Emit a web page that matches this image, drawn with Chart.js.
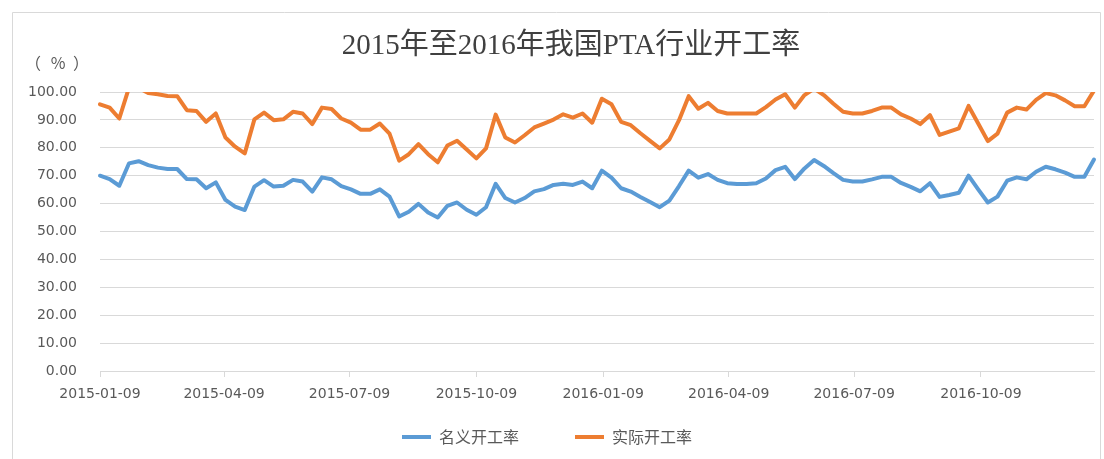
<!DOCTYPE html>
<html>
<head>
<meta charset="utf-8">
<script src="https://cdn.jsdelivr.net/npm/chart.js@4.4.1/dist/chart.umd.min.js"></script>
<style>
  html, body { margin: 0; padding: 0; background: #fff; }
  #wrap { width: 1104px; height: 459px; }
</style>
</head>
<body>
<div id="wrap"><canvas id="chart" width="1104" height="459"></canvas></div>
<script>
// chart text
const chartTitle = '2015年至2016年我国PTA行业开工率';
const unitParts = ['（', '%', '）'];
const seriesNames = ['名义开工率', '实际开工率'];

// weekly series, first week 2015-01-09
const firstWeek = '2015-01-09';
const tickDates = ['2015-01-09', '2015-04-09', '2015-07-09', '2015-10-09',
                   '2016-01-09', '2016-04-09', '2016-07-09', '2016-10-09'];

const nominalRate = [
  70.0, 68.8, 66.4, 74.4, 75.2, 73.8, 72.9, 72.4, 72.4, 68.8,
  68.7, 65.5, 67.6, 61.3, 58.9, 57.7, 66.1, 68.4, 66.1, 66.4,
  68.5, 67.9, 64.3, 69.4, 68.7, 66.3, 65.1, 63.5, 63.5, 65.1,
  62.5, 55.4, 57.1, 59.9, 56.8, 55.0, 59.2, 60.4, 57.8, 56.0,
  58.7, 67.1, 62.0, 60.4, 62.0, 64.4, 65.2, 66.7, 67.1, 66.7,
  67.9, 65.5, 71.8, 69.3, 65.5, 64.3, 62.4, 60.6, 58.7, 61.1,
  66.3, 71.8, 69.3, 70.6, 68.5, 67.3, 67.0, 67.0, 67.3, 69.0,
  72.0, 73.2, 68.8, 72.6, 75.6, 73.5, 70.9, 68.5, 67.9, 67.9,
  68.7, 69.6, 69.6, 67.4, 66.0, 64.4, 67.3, 62.4, 63.1, 63.9,
  70.0, 65.1, 60.4, 62.5, 68.2, 69.4, 68.7, 71.4, 73.2, 72.3,
  71.1, 69.6, 69.6, 75.8
];

const actualRate = [
  95.6, 94.4, 90.5, 101.5, 101.5, 99.6, 99.2, 98.6, 98.5, 93.5,
  93.2, 89.3, 92.3, 83.7, 80.4, 78.0, 90.2, 92.6, 89.9, 90.2,
  92.9, 92.3, 88.5, 94.4, 93.9, 90.5, 89.0, 86.5, 86.5, 88.7,
  85.1, 75.4, 77.7, 81.3, 77.7, 74.8, 80.8, 82.5, 79.4, 76.2,
  79.8, 91.9, 83.7, 81.9, 84.5, 87.3, 88.7, 90.1, 92.0, 90.8,
  92.3, 89.0, 97.6, 95.6, 89.3, 88.1, 85.2, 82.5, 79.8, 83.0,
  89.9, 98.5, 94.0, 96.1, 93.2, 92.3, 92.3, 92.3, 92.3, 94.6,
  97.3, 99.2, 94.4, 98.9, 101.2, 98.9, 95.8, 92.9, 92.3, 92.3,
  93.2, 94.4, 94.4, 92.0, 90.5, 88.5, 91.7, 84.6, 85.8, 87.0,
  95.0, 88.7, 82.4, 85.1, 92.6, 94.4, 93.7, 97.2, 99.6, 98.8,
  97.0, 94.9, 94.9, 100.5
];

const DAY = 86400000;
const t0 = Date.parse(firstWeek);
const dayOf = s => Math.round((Date.parse(s) - t0) / DAY);
const weekDays = nominalRate.map((_, i) => i * 7);
const tickDays = tickDates.map(dayOf);
const tickLabelOf = {};
tickDates.forEach((d, i) => { tickLabelOf[tickDays[i]] = d; });

const gridGray = '#d9d9d9';
const textGray = '#595959';
const legendPad = 56;
const legendRowY = 437;

// frame, title, unit label; also pulls the legend row up under the axis labels
const decor = {
  id: 'decor',
  afterLayout(chart) {
    const lg = chart.legend;
    if (!lg) return;
    lg.top = legendRowY - legendPad - 8;
    lg.bottom = chart.height;
    lg.height = lg.bottom - lg.top;
  },
  beforeDraw(chart) {
    const ctx = chart.ctx;
    ctx.save();
    ctx.fillStyle = '#fff';
    ctx.fillRect(0, 0, chart.width, chart.height);
    ctx.strokeStyle = gridGray;
    ctx.lineWidth = 1;
    ctx.beginPath();
    ctx.moveTo(12.5, chart.height + 5);
    ctx.lineTo(12.5, 12.5);
    ctx.lineTo(1100.5, 12.5);
    ctx.lineTo(1100.5, chart.height + 5);
    ctx.stroke();
    ctx.restore();
  },
  afterDraw(chart) {
    const ctx = chart.ctx;
    ctx.save();
    ctx.textAlign = 'center';
    ctx.textBaseline = 'middle';
    ctx.fillStyle = '#404040';
    ctx.font = '29px "Liberation Serif", "Noto Sans CJK SC", serif';
    ctx.fillText(chartTitle, 571, 46);
    ctx.fillStyle = textGray;
    ctx.font = '16px "Noto Sans CJK SC", sans-serif';
    const ux = [33, 58, 81];
    unitParts.forEach((s, i) => ctx.fillText(s, ux[i], 63));
    ctx.restore();
  }
};

const lineSet = (label, values, color) => ({
  label,
  data: values.map((v, i) => ({ x: weekDays[i], y: v })),
  borderColor: color,
  backgroundColor: color,
  borderWidth: 4,
  pointRadius: 0,
  tension: 0,
  borderJoinStyle: 'round',
  borderCapStyle: 'round',
  clip: { left: 5, right: 5, top: 0, bottom: 5 }
});

new Chart(document.getElementById('chart'), {
  type: 'line',
  data: {
    datasets: [
      lineSet(seriesNames[0], nominalRate, '#5b9bd5'),
      lineSet(seriesNames[1], actualRate, '#ed7d31')
    ]
  },
  options: {
    responsive: false,
    animation: false,
    events: [],
    layout: { padding: { top: 92, right: 10, bottom: 8, left: 0 } },
    plugins: {
      title: { display: false },
      tooltip: { enabled: false },
      legend: {
        position: 'bottom',
        maxHeight: 40,
        labels: {
          boxWidth: 29,
          boxHeight: 4,
          padding: legendPad,
          color: textGray,
          font: { family: '"Noto Sans CJK SC", sans-serif', size: 16 },
          generateLabels: chart =>
            Chart.defaults.plugins.legend.labels.generateLabels(chart)
              .map(item => ({ ...item, lineWidth: 0 }))
        }
      }
    },
    scales: {
      x: {
        type: 'linear',
        min: 0,
        max: weekDays[weekDays.length - 1],
        afterBuildTicks: axis => { axis.ticks = tickDays.map(v => ({ value: v })); },
        afterFit: axis => { axis.height = 40; },
        grid: {
          drawOnChartArea: false,
          drawTicks: true,
          tickLength: 6,
          color: gridGray
        },
        border: { color: gridGray, width: 1 },
        ticks: {
          autoSkip: false,
          maxRotation: 0,
          padding: 9,
          color: textGray,
          font: { family: '"DejaVu Sans", sans-serif', size: 14 },
          callback: v => tickLabelOf[v] || ''
        }
      },
      y: {
        min: 0,
        max: 100,
        afterFit: axis => { axis.width = 100; },
        grid: { color: gridGray, drawTicks: false },
        border: { display: false },
        ticks: {
          stepSize: 10,
          padding: 23,
          color: textGray,
          font: { family: '"DejaVu Sans", sans-serif', size: 14 },
          callback: v => v.toFixed(2)
        }
      }
    }
  },
  plugins: [decor]
});
</script>
</body>
</html>
